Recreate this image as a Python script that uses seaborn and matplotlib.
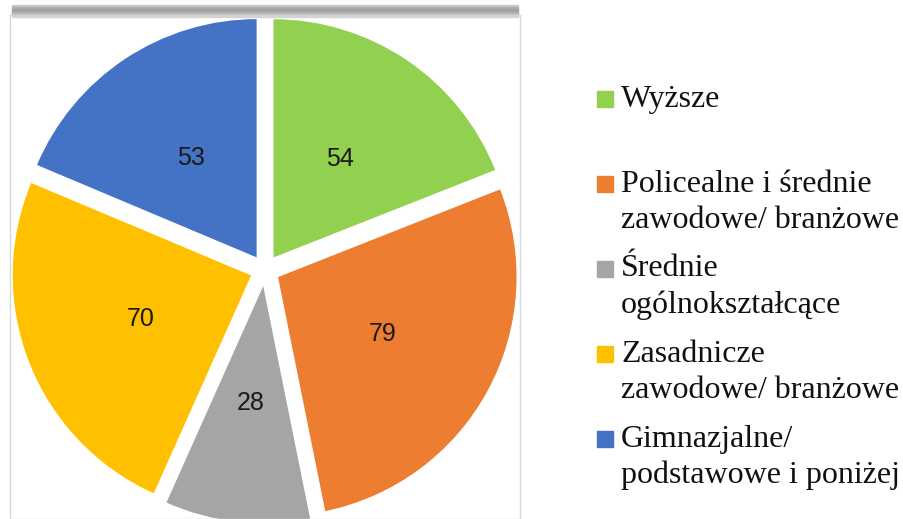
import seaborn as sns
import matplotlib.pyplot as plt
from matplotlib.patches import Rectangle

# data
categories = ["Wyższe",
              "Policealne i średnie\nzawodowe/ branżowe",
              "Średnie\nogólnokształcące",
              "Zasadnicze\nzawodowe/ branżowe",
              "Gimnazjalne/\npodstawowe i poniżej"]
values = [54, 79, 28, 70, 53]
colors = ["#92D050", "#ED7D31", "#A5A5A5", "#FFC000", "#4472C4"]

sns.set_theme(style="white")
pal = sns.color_palette(colors)

W, H = 904, 519
fig = plt.figure(figsize=(W / 100, H / 100), dpi=100)

# pie axes, framed box on the left
ax = fig.add_axes([10 / W, 0, 510 / W, 504 / H])
total = sum(values)
wedges, texts, autotexts = ax.pie(
    values, colors=pal, startangle=90, counterclock=False,
    explode=[0.058] * len(values), radius=1.0,
    autopct=lambda p: f"{round(p * total / 100)}", pctdistance=0.5,
    textprops={"fontsize": 18, "family": "Liberation Sans", "color": "#1a1a1a"},
)
for w in wedges:
    w.set_clip_path(ax.patch)
ax.set_aspect("equal")
scale = 240
ax.set_xlim(-255 / scale, 255 / scale)
ax.set_ylim(-249 / scale, 255 / scale)
ax.set_frame_on(True)
for s in ax.spines.values():
    s.set_visible(True)
    s.set_color("#d9d9d9")
    s.set_linewidth(1)

# top shadow of the box (soft gradient)
shades = ["#c8c8c8", "#b0b0b0", "#a0a0a0", "#a8a8a8", "#bcbcbc", "#d4d4d4"]
for k, sh in enumerate(shades):
    fig.patches.append(Rectangle((12 / W, 1 - (5 + 2 * k + 2) / H), 506 / W, 2 / H,
                                 transform=fig.transFigure, color=sh, zorder=0))

# legend drawn by hand (markers aligned with first text line)
for i, (lab, c) in enumerate(zip(categories, colors)):
    y0 = 99 + 85 * i
    fig.patches.append(Rectangle((597 / W, 1 - (y0 + 8) / H), 16 / W, 16 / H,
                                 transform=fig.transFigure, color=c))
    for j, line in enumerate(lab.split("\n")):
        fig.text(621 / W, 1 - (y0 + 36 * j) / H, line, ha="left", va="center",
                 fontsize=23, family="Liberation Serif", color="#111111")

fig.savefig("out.png", dpi=100)
